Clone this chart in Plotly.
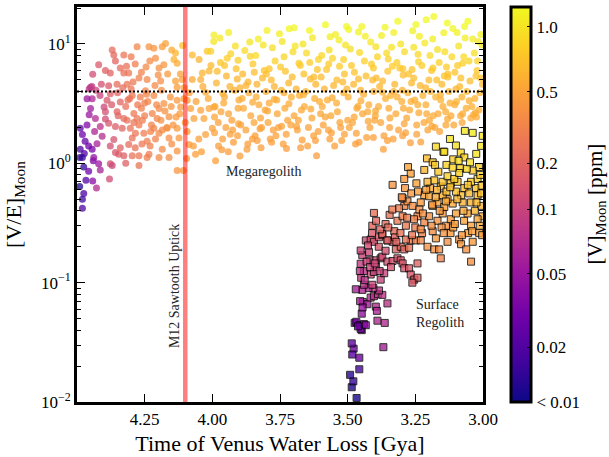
import numpy as np
import plotly.graph_objects as go

# ---------------- Megaregolith (circles) ----------------
mega_gya = [
    4.488, 4.480, 4.463, 4.470, 4.488, 4.457, 4.473, 4.480, 4.444, 4.490,
    4.475, 4.467, 4.490, 4.475, 4.480, 4.480, 4.457, 4.442, 4.428, 4.440,
    4.414, 4.380, 4.370, 4.450, 4.444, 4.463, 4.450, 4.442, 4.420, 4.400,
    4.432, 4.414, 4.407, 4.426, 4.438, 4.420, 4.377, 4.377, 4.364, 4.383,
    4.389, 4.377, 4.383, 4.395, 4.352, 4.340, 4.358, 4.333, 4.346, 4.358,
    4.327, 4.340, 4.309, 4.303, 4.315, 4.327, 4.290, 4.278, 4.271, 4.284,
    4.296, 4.253, 4.241, 4.234, 4.271, 4.271, 4.216, 4.204, 4.222, 4.197,
    4.179, 4.216, 4.247, 4.241, 4.271, 4.309, 4.327, 4.315, 4.352, 4.377,
    4.370, 4.364, 4.358, 4.327, 4.317, 4.278, 4.234, 4.216, 4.210, 4.231,
    4.173, 4.185, 4.179, 4.191, 4.197, 4.266, 4.296, 4.160, 4.167, 4.197,
    4.160, 4.185, 4.160, 4.197, 4.241, 4.296, 4.130, 4.107, 4.130, 4.123,
    4.130, 4.093, 4.086, 4.062, 4.068, 4.025, 4.031, 4.000, 3.988, 4.012,
    3.994, 4.080, 4.043, 4.130, 4.117, 4.105, 4.093, 4.136, 4.130, 4.142,
    4.136, 4.130, 4.111, 4.074, 4.049, 4.074, 4.043, 4.037, 4.012, 4.019,
    4.006, 4.025, 3.994, 4.455, 4.445, 4.430, 4.410, 4.300, 4.250, 4.350,
    4.320, 4.305, 4.290, 4.262, 4.250, 4.238, 4.225, 4.212, 4.190, 4.175,
    4.155, 4.145, 4.120, 4.100, 4.085, 4.060, 4.050, 4.035, 4.015, 4.005,
    4.395, 4.340, 4.300, 4.285, 4.262, 4.245, 4.200, 4.165, 4.150, 4.110,
    4.320, 4.285, 4.260, 4.230, 4.210, 4.185, 4.150, 4.095, 4.070, 4.040,
    3.995, 3.985, 3.978, 3.970, 3.962, 3.955, 3.948, 3.940, 3.932, 3.925,
    3.918, 3.912, 3.905, 3.898, 3.990, 3.972, 3.950, 3.935, 3.915, 3.902,
    3.982, 3.965, 3.945, 3.928, 3.908, 3.992, 3.958, 3.922, 3.940, 3.968,
    3.895, 3.888, 3.880, 3.872, 3.865, 3.858, 3.850, 3.842, 3.835, 3.828,
    3.820, 3.812, 3.805, 3.890, 3.876, 3.860, 3.846, 3.830, 3.815, 3.802,
    3.885, 3.868, 3.852, 3.838, 3.822, 3.808, 3.898, 3.862, 3.840, 3.818,
    3.798, 3.790, 3.782, 3.775, 3.768, 3.760, 3.752, 3.745, 3.738, 3.730,
    3.722, 3.716, 3.708, 3.702, 3.794, 3.778, 3.762, 3.748, 3.732, 3.718,
    3.786, 3.771, 3.756, 3.742, 3.726, 3.710, 3.800, 3.765, 3.735, 3.705,
    3.698, 3.690, 3.682, 3.675, 3.668, 3.660, 3.652, 3.645, 3.638, 3.630,
    3.622, 3.615, 3.608, 3.600, 3.694, 3.678, 3.662, 3.648, 3.632, 3.618,
    3.686, 3.671, 3.655, 3.641, 3.626, 3.612, 3.604, 3.665, 3.640, 3.698,
    3.598, 3.590, 3.582, 3.575, 3.568, 3.560, 3.552, 3.545, 3.538, 3.530,
    3.522, 3.515, 3.508, 3.500, 3.594, 3.578, 3.562, 3.548, 3.532, 3.518,
    3.586, 3.571, 3.556, 3.541, 3.526, 3.512, 3.504, 3.565, 3.540, 3.596,
    3.498, 3.490, 3.482, 3.475, 3.468, 3.460, 3.452, 3.445, 3.438, 3.430,
    3.422, 3.415, 3.408, 3.400, 3.494, 3.478, 3.462, 3.448, 3.432, 3.418,
    3.486, 3.471, 3.456, 3.441, 3.426, 3.412, 3.404, 3.466, 3.435, 3.496,
    3.398, 3.390, 3.382, 3.375, 3.368, 3.360, 3.352, 3.345, 3.338, 3.330,
    3.322, 3.315, 3.308, 3.300, 3.394, 3.378, 3.362, 3.348, 3.332, 3.318,
    3.386, 3.371, 3.356, 3.341, 3.326, 3.312, 3.304, 3.366, 3.335, 3.396,
    3.298, 3.290, 3.282, 3.275, 3.268, 3.260, 3.252, 3.245, 3.238, 3.230,
    3.222, 3.215, 3.208, 3.200, 3.294, 3.278, 3.262, 3.248, 3.232, 3.218,
    3.286, 3.271, 3.256, 3.241, 3.226, 3.212, 3.204, 3.266, 3.235, 3.296,
    3.198, 3.190, 3.182, 3.175, 3.168, 3.160, 3.152, 3.145, 3.138, 3.130,
    3.122, 3.115, 3.108, 3.100, 3.194, 3.178, 3.162, 3.148, 3.132, 3.118,
    3.186, 3.171, 3.156, 3.141, 3.126, 3.112, 3.104, 3.166, 3.135, 3.196,
    3.098, 3.090, 3.082, 3.075, 3.068, 3.060, 3.052, 3.045, 3.038, 3.030,
    3.022, 3.015, 3.008, 3.002, 3.094, 3.078, 3.062, 3.048, 3.032, 3.018,
    3.086, 3.071, 3.056, 3.041, 3.026, 3.012, 3.004, 3.066, 3.035, 3.096,
    3.992, 3.961, 3.934, 3.903, 3.876, 3.851, 3.824, 3.796, 3.771, 3.744,
    3.717, 3.689, 3.663, 3.636, 3.609, 3.583, 3.557, 3.529, 3.503, 3.476,
    3.451, 3.424, 3.397, 3.371, 3.344, 3.317, 3.291, 3.264, 3.237, 3.211,
    3.184, 3.157, 3.131, 3.104, 3.077, 3.051, 3.024, 3.009, 3.143, 3.256,
    3.977, 3.941, 3.907, 3.869, 3.834, 3.781, 3.727, 3.674, 3.619, 3.566,
    3.512, 3.458, 3.405, 3.353, 3.297, 3.245, 3.189, 3.137, 3.083, 3.028,
    4.455, 4.435, 4.415, 4.395, 4.372, 4.348, 4.331, 4.312, 4.293, 4.276,
    4.258, 4.243, 4.228, 4.206, 4.188, 4.168, 4.152, 4.134, 4.118, 4.104,
    3.955, 3.905, 3.845, 3.790, 3.735, 3.680, 3.625, 3.570, 3.515, 3.460,
    3.405, 3.350, 3.295, 3.240, 3.185, 3.130, 3.075, 3.020, 3.330, 3.210,
]
mega_ve = [
    1.97, 1.74, 2.10, 1.53, 1.31, 1.40, 1.21, 1.12, 1.31, 1.12,
    0.93, 0.72, 0.64, 0.56, 0.50, 0.42, 0.86, 0.71, 0.62, 1.05,
    0.88, 0.74, 0.96, 2.88, 3.47, 3.47, 4.33, 5.57, 6.70, 2.97,
    2.38, 2.04, 1.69, 1.46, 1.12, 0.99, 0.99, 1.40, 1.58, 2.17,
    3.37, 3.82, 4.46, 2.70, 2.70, 3.27, 2.04, 1.97, 1.19, 1.23,
    1.16, 1.35, 1.44, 1.97, 2.30, 2.38, 2.62, 2.38, 2.10, 1.79,
    1.63, 1.79, 1.53, 1.19, 1.16, 0.96, 1.97, 2.38, 2.62, 2.88,
    3.17, 3.70, 4.06, 5.04, 5.20, 5.72, 5.72, 4.60, 4.60, 5.72,
    8.90, 8.10, 7.20, 8.10, 6.50, 9.50, 9.50, 9.20, 7.60, 7.20,
    10.1, 9.50, 6.70, 4.90, 6.30, 3.60, 3.70, 2.46, 1.97, 1.79,
    1.63, 1.31, 1.12, 1.12, 1.12, 1.16, 0.87, 0.87, 1.27, 1.63,
    1.97, 1.85, 1.44, 1.19, 2.38, 1.74, 2.38, 1.97, 1.05, 2.88,
    2.97, 2.88, 2.79, 3.37, 2.97, 3.47, 3.37, 4.90, 4.33, 7.40,
    8.40, 6.90, 5.04, 8.10, 7.40, 5.04, 5.04, 5.72, 5.93, 8.70,
    8.70, 3.94, 11.9, 4.20, 4.40, 4.10, 4.60, 4.20, 3.20, 3.90,
    3.00, 3.50, 2.20, 2.90, 2.50, 3.30, 2.10, 4.50, 2.30, 2.75,
    3.60, 2.10, 2.60, 2.20, 3.90, 3.30, 1.60, 4.40, 3.50, 6.60,
    6.00, 6.30, 7.80, 6.80, 5.80, 6.40, 5.50, 5.60, 8.90, 9.70,
    1.00, 1.35, 1.45, 1.40, 1.60, 1.90, 1.45, 1.10, 1.40, 1.25,
    10.5, 4.70, 2.20, 7.00, 1.60, 3.60, 5.40, 2.60, 8.30, 1.90,
    4.10, 6.20, 2.90, 1.15, 3.00, 11.2, 2.00, 4.40, 9.60, 3.40,
    5.90, 1.30, 7.60, 2.30, 5.10, 1.80, 3.20, 1.50, 12.5, 2.70,
    2.10, 5.60, 8.80, 1.31, 3.90, 2.50, 6.80, 1.70, 4.60, 3.10,
    1.35, 9.80, 2.80, 3.50, 1.90, 7.90, 2.20, 11.0, 5.20, 4.00,
    2.90, 4.80, 1.60, 3.60, 2.40, 6.00, 4.30, 10.4, 8.00, 2.00,
    13.0, 3.20, 5.00, 1.90, 7.20, 2.60, 12.2, 4.10, 1.45, 5.90,
    2.30, 13.4, 3.60, 8.60, 2.20, 9.30, 3.40, 6.40, 2.90, 4.70,
    1.60, 4.40, 2.00, 10.5, 1.33, 2.10, 5.60, 1.70, 3.90, 5.30,
    13.7, 4.20, 2.30, 6.60, 1.57, 3.00, 8.40, 2.00, 5.10, 11.3,
    3.50, 1.16, 7.40, 2.60, 9.60, 3.70, 5.60, 1.40, 2.40, 4.60,
    1.90, 2.80, 4.00, 13.0, 1.70, 6.10, 3.30, 10.0, 7.00, 2.50,
    5.30, 2.10, 14.5, 3.40, 8.90, 1.80, 4.50, 12.0, 2.70, 6.50,
    1.55, 3.90, 9.80, 2.30, 3.00, 6.10, 2.50, 1.40, 10.8, 4.80,
    4.20, 1.90, 7.60, 3.20, 2.00, 5.60, 14.0, 11.5, 5.00, 8.00,
    3.60, 9.10, 2.20, 5.80, 1.79, 12.6, 4.10, 2.60, 7.20, 1.65,
    3.10, 10.4, 5.00, 2.30, 2.00, 4.60, 3.00, 14.0, 5.40, 2.00,
    6.60, 1.45, 8.50, 3.80, 2.70, 6.80, 4.00, 2.90, 11.6, 13.2,
    2.50, 7.80, 4.40, 11.8, 1.31, 3.50, 5.90, 2.00, 9.40, 4.00,
    2.60, 15.5, 6.30, 3.30, 5.20, 2.20, 13.8, 2.90, 1.60, 7.00,
    3.00, 4.90, 8.40, 3.70, 4.60, 1.90, 10.0, 1.70, 6.50, 9.50,
    4.10, 8.60, 2.40, 5.60, 1.49, 12.9, 3.40, 2.10, 7.10, 1.51,
    3.70, 10.2, 2.60, 5.00, 2.90, 3.90, 6.10, 14.6, 4.50, 2.20,
    1.80, 2.80, 9.40, 3.10, 6.60, 4.30, 1.90, 3.30, 11.6, 6.20,
    2.30, 6.00, 17.0, 3.60, 9.00, 1.85, 4.60, 12.4, 2.70, 5.30,
    3.20, 7.80, 2.10, 4.20, 4.00, 2.00, 7.00, 3.00, 15.0, 2.50,
    11.0, 5.00, 3.40, 8.60, 4.00, 13.5, 5.80, 2.60, 6.40, 8.00,
    3.30, 9.60, 5.20, 2.60, 14.0, 4.00, 7.20, 2.40, 11.0, 3.50,
    6.00, 2.80, 12.0, 4.60, 6.60, 3.60, 2.90, 4.90, 8.40, 10.5,
    4.40, 7.80, 15.5, 3.00, 5.40, 3.90, 9.80, 11.2, 2.55, 12.5,
    2.45, 3.85, 1.75, 2.15, 4.50, 3.25, 1.95, 2.75, 3.45, 2.05,
    3.15, 2.05, 3.75, 2.85, 1.85, 2.45, 3.55, 2.20, 4.20, 2.45,
    3.35, 2.25, 2.75, 3.95, 2.40, 3.60, 2.15, 4.70, 2.65, 3.10,
    2.50, 3.75, 2.35, 3.10, 2.20, 3.35, 2.45, 5.20, 5.40, 5.20,
    1.40, 1.25, 1.70, 1.45, 1.55, 1.50, 1.75, 1.35, 1.55, 1.60,
    1.75, 1.50, 1.65, 1.55, 1.70, 1.75, 2.05, 2.10, 2.50, 2.65,
    2.55, 1.85, 3.70, 2.35, 3.10, 2.50, 4.30, 3.40, 4.80, 3.10,
    2.30, 3.80, 1.85, 3.10, 4.10, 2.00, 3.00, 2.45, 5.60, 4.30,
    6.60, 7.30, 5.80, 6.20, 7.80, 6.90, 5.30, 6.80, 7.40, 5.10,
    6.30, 7.50, 5.50, 8.20, 6.30, 5.60, 6.90, 7.20, 12.5, 16.0,
]
mega_v = [
    0.022, 0.028, 0.035, 0.025, 0.018, 0.030, 0.020, 0.015, 0.032, 0.014,
    0.014, 0.020, 0.012, 0.018, 0.016, 0.020, 0.028, 0.040, 0.070, 0.035,
    0.060, 0.120, 0.100, 0.055, 0.065, 0.050, 0.085, 0.120, 0.160, 0.110,
    0.070, 0.080, 0.070, 0.060, 0.045, 0.050, 0.120, 0.130, 0.140, 0.150,
    0.15, 0.17, 0.16, 0.13, 0.19, 0.20, 0.17, 0.20, 0.17, 0.15,
    0.18, 0.19, 0.22, 0.24, 0.25, 0.22, 0.27, 0.27, 0.28, 0.26,
    0.24, 0.30, 0.30, 0.29, 0.26, 0.25, 0.33, 0.34, 0.33, 0.36,
    0.40, 0.36, 0.33, 0.34, 0.31, 0.27, 0.24, 0.26, 0.22, 0.19,
    0.22, 0.21, 0.20, 0.26, 0.25, 0.33, 0.40, 0.42, 0.40, 0.36,
    0.50, 0.47, 0.42, 0.38, 0.40, 0.30, 0.27, 0.40, 0.38, 0.35,
    0.38, 0.36, 0.37, 0.35, 0.30, 0.24, 0.42, 0.44, 0.42, 0.44,
    0.44, 0.47, 0.46, 0.48, 0.50, 0.50, 0.52, 0.50, 0.48, 0.52,
    0.52, 0.50, 0.50, 0.45, 0.45, 0.47, 0.48, 0.50, 0.47, 0.60,
    0.62, 0.55, 0.50, 0.65, 0.60, 0.55, 0.56, 0.60, 0.62, 0.75,
    0.80, 0.55, 1.10, 0.075, 0.090, 0.100, 0.130, 0.26, 0.30, 0.20,
    0.24, 0.26, 0.26, 0.30, 0.30, 0.33, 0.32, 0.36, 0.38, 0.40,
    0.43, 0.42, 0.45, 0.47, 0.50, 0.50, 0.48, 0.55, 0.55, 0.65,
    0.18, 0.22, 0.28, 0.30, 0.32, 0.35, 0.38, 0.44, 0.55, 0.70,
    0.18, 0.24, 0.27, 0.30, 0.32, 0.36, 0.38, 0.44, 0.48, 0.48,
    1.00, 0.60, 0.50, 0.75, 0.48, 0.55, 0.62, 0.52, 0.85, 0.48,
    0.58, 0.70, 0.53, 0.46, 0.54, 1.05, 0.50, 0.60, 0.95, 0.55,
    0.66, 0.47, 0.80, 0.50, 0.62, 0.50, 0.55, 0.47, 1.10, 0.52,
    0.50, 0.65, 0.90, 0.47, 0.58, 0.52, 0.75, 0.48, 0.60, 0.55,
    0.47, 1.00, 0.53, 0.56, 0.50, 0.85, 0.52, 1.10, 0.63, 0.58,
    0.54, 0.62, 0.48, 0.57, 0.52, 0.70, 0.60, 1.00, 0.90, 0.50,
    1.15, 0.55, 0.65, 0.50, 0.82, 0.53, 1.10, 0.60, 0.48, 0.72,
    0.52, 1.20, 0.58, 0.90, 0.52, 0.95, 0.56, 0.75, 0.55, 0.62,
    0.49, 0.60, 0.50, 1.00, 0.47, 0.51, 0.68, 0.49, 0.58, 0.65,
    1.20, 0.60, 0.52, 0.75, 0.48, 0.55, 0.90, 0.50, 0.65, 1.05,
    0.57, 0.46, 0.85, 0.53, 1.00, 0.58, 0.70, 0.48, 0.53, 0.62,
    0.50, 0.54, 0.60, 1.20, 0.49, 0.72, 0.56, 1.00, 0.80, 0.52,
    0.66, 0.50, 1.25, 0.57, 0.95, 0.50, 0.62, 1.10, 0.54, 0.78,
    0.48, 0.60, 1.00, 0.52, 0.55, 0.72, 0.53, 0.48, 1.10, 0.64,
    0.60, 0.50, 0.85, 0.56, 0.50, 0.70, 1.20, 1.10, 0.66, 0.88,
    0.58, 0.95, 0.52, 0.70, 0.50, 1.15, 0.60, 0.53, 0.82, 0.49,
    0.56, 1.05, 0.65, 0.52, 0.51, 0.63, 0.55, 1.20, 0.68, 0.51,
    0.76, 0.48, 0.90, 0.58, 0.54, 0.78, 0.60, 0.55, 1.10, 1.20,
    0.53, 0.85, 0.62, 1.10, 0.48, 0.58, 0.72, 0.50, 1.00, 0.60,
    0.54, 1.25, 0.75, 0.57, 0.65, 0.52, 1.20, 0.55, 0.49, 0.80,
    0.56, 0.64, 0.90, 0.59, 0.63, 0.50, 1.00, 0.49, 0.77, 0.98,
    0.60, 0.92, 0.53, 0.70, 0.48, 1.15, 0.58, 0.52, 0.82, 0.49,
    0.60, 1.05, 0.55, 0.66, 0.55, 0.60, 0.74, 1.25, 0.63, 0.53,
    0.50, 0.55, 1.00, 0.57, 0.78, 0.62, 0.51, 0.58, 1.10, 0.74,
    0.54, 0.74, 1.30, 0.60, 0.95, 0.50, 0.65, 1.15, 0.56, 0.70,
    0.58, 0.88, 0.53, 0.62, 0.62, 0.52, 0.82, 0.57, 1.25, 0.55,
    1.10, 0.67, 0.59, 0.93, 0.62, 1.20, 0.72, 0.55, 0.78, 0.90,
    0.60, 1.00, 0.70, 0.56, 1.25, 0.63, 0.85, 0.55, 1.10, 0.60,
    0.75, 0.57, 1.15, 0.66, 0.78, 0.60, 0.57, 0.68, 0.95, 1.05,
    0.64, 0.90, 1.30, 0.58, 0.72, 0.62, 1.05, 1.10, 0.56, 1.15,
    0.52, 0.58, 0.49, 0.51, 0.60, 0.55, 0.50, 0.53, 0.56, 0.50,
    0.55, 0.50, 0.58, 0.54, 0.49, 0.52, 0.57, 0.51, 0.60, 0.52,
    0.56, 0.52, 0.54, 0.60, 0.53, 0.58, 0.52, 0.64, 0.55, 0.57,
    0.55, 0.60, 0.54, 0.57, 0.53, 0.58, 0.55, 0.70, 0.70, 0.68,
    0.47, 0.46, 0.48, 0.47, 0.47, 0.48, 0.49, 0.47, 0.48, 0.48,
    0.49, 0.48, 0.49, 0.48, 0.50, 0.50, 0.52, 0.53, 0.55, 0.56,
    0.050, 0.065, 0.100, 0.120, 0.160, 0.190, 0.220, 0.240, 0.270, 0.280,
    0.30, 0.33, 0.32, 0.35, 0.38, 0.40, 0.42, 0.44, 0.50, 0.48,
    0.72, 0.80, 0.68, 0.72, 0.85, 0.78, 0.66, 0.78, 0.82, 0.65,
    0.75, 0.82, 0.68, 0.88, 0.76, 0.70, 0.80, 0.84, 1.15, 1.30,
]

# ---------------- Surface regolith (squares) ----------------
surf_gya = [
    3.467, 3.485, 3.479, 3.491, 3.457, 3.457, 3.478, 3.485, 3.368, 3.483,
    3.474, 3.468, 3.456, 3.448, 3.452, 3.440, 3.433, 3.462, 3.390, 3.363,
    3.448, 3.444, 3.454, 3.427, 3.396, 3.353, 3.415, 3.403, 3.388, 3.372,
    3.384, 3.405, 3.423, 3.446, 3.440, 3.450, 3.409, 3.415, 3.403, 3.378,
    3.452, 3.446, 3.452, 3.421, 3.417, 3.396, 3.378, 3.372, 3.353, 3.334,
    3.316, 3.304, 3.297, 3.291, 3.273, 3.267, 3.254, 3.242, 3.261, 3.242,
    3.433, 3.415, 3.403, 3.384, 3.372, 3.353, 3.334, 3.322, 3.304, 3.291,
    3.273, 3.267, 3.248, 3.230, 3.205, 3.180, 3.174, 3.440, 3.425, 3.395,
    3.038, 3.067, 3.122, 3.174, 3.146, 3.100, 3.082, 3.069, 3.110, 3.007,
    3.015, 3.038, 3.084, 3.207, 3.186, 3.217, 3.177, 3.135, 3.001, 3.143,
    3.277, 3.267, 3.291, 3.334, 3.288, 3.246, 3.403, 3.409, 3.372, 3.353,
    3.328, 3.316, 3.297, 3.291, 3.279, 3.260, 3.297, 3.242, 3.217, 3.199,
    3.186, 3.168, 3.149, 3.137, 3.119, 3.100, 3.088, 3.131, 3.162, 3.156,
    3.081, 3.044, 3.038, 3.014, 3.044, 3.001, 3.020, 3.057, 3.075, 3.044,
    3.020, 3.007, 3.112, 3.131, 3.149, 3.156, 3.180, 3.149, 3.119, 3.094,
    3.069, 3.051, 3.026, 3.007, 3.217, 3.199, 3.230, 3.186, 3.131, 3.106,
    3.044, 3.020, 3.081, 3.168, 3.143, 3.060, 3.090, 3.025, 3.165, 3.195,
    3.310, 3.285, 3.265, 3.250, 3.235, 3.225, 3.210, 3.190, 3.175, 3.160,
    3.395, 3.380, 3.360, 3.345, 3.325, 3.305, 3.285, 3.255, 3.230, 3.120,
    3.110, 3.095, 3.070, 3.055, 3.030, 3.012, 3.005, 3.062, 3.100, 3.135,
    3.240, 3.222, 3.205, 3.188, 3.170, 3.153, 3.137, 3.121, 3.104, 3.088,
    3.072, 3.056, 3.040, 3.024, 3.010, 3.003, 3.048, 3.078, 3.112, 3.145,
    3.350, 3.335, 3.320, 3.300, 3.280, 3.262, 3.385, 3.410, 3.430, 3.365,
    3.455, 3.437, 3.418, 3.400, 3.382, 3.360, 3.470, 3.445, 3.392, 3.340,
]
surf_ve = [
    0.0108, 0.0133, 0.0149, 0.0169, 0.0188, 0.0235, 0.0280, 0.0310, 0.0288, 0.0250,
    0.046, 0.047, 0.044, 0.040, 0.041, 0.045, 0.044, 0.043, 0.048, 0.046,
    0.055, 0.069, 0.070, 0.066, 0.063, 0.067, 0.075, 0.077, 0.080, 0.079,
    0.086, 0.090, 0.090, 0.087, 0.096, 0.110, 0.096, 0.117, 0.123, 0.106,
    0.144, 0.170, 0.186, 0.180, 0.154, 0.154, 0.160, 0.165, 0.150, 0.152,
    0.160, 0.154, 0.145, 0.132, 0.132, 0.117, 0.106, 0.110, 0.100, 0.145,
    0.226, 0.230, 0.220, 0.240, 0.250, 0.226, 0.220, 0.190, 0.200, 0.190,
    0.196, 0.226, 0.226, 0.226, 0.200, 0.190, 0.235, 0.125, 0.205, 0.135,
    1.80, 1.87, 1.60, 1.38, 1.25, 1.41, 1.23, 1.12, 1.08, 1.40,
    0.93, 0.87, 0.91, 1.10, 1.02, 0.88, 0.97, 0.97, 1.70, 1.25,
    0.93, 0.82, 0.74, 0.66, 0.62, 0.68, 0.384, 0.300, 0.256, 0.226,
    0.27, 0.33, 0.36, 0.44, 0.48, 0.44, 0.51, 0.36, 0.32, 0.36,
    0.27, 0.33, 0.38, 0.30, 0.34, 0.38, 0.23, 0.22, 0.19, 0.16,
    0.21, 0.30, 0.22, 0.26, 0.15, 0.36, 0.34, 0.38, 0.47, 0.47,
    0.54, 0.44, 0.46, 0.50, 0.54, 0.64, 0.72, 0.70, 0.68, 0.70,
    0.62, 0.56, 0.62, 0.56, 0.54, 0.53, 0.47, 0.44, 0.78, 0.74,
    0.70, 0.74, 0.54, 0.47, 0.43, 0.90, 1.05, 1.20, 0.85, 0.62,
    0.42, 0.30, 0.56, 0.29, 0.41, 0.26, 0.60, 0.30, 0.52, 0.40,
    0.33, 0.28, 0.31, 0.37, 0.24, 0.26, 0.23, 0.34, 0.28, 0.26,
    0.29, 0.50, 0.33, 0.26, 0.40, 0.30, 0.65, 0.19, 0.58, 0.58,
    0.58, 0.38, 0.70, 0.45, 0.60, 0.29, 0.48, 0.63, 0.31, 0.83,
    0.40, 0.66, 0.27, 0.47, 0.80, 0.25, 1.02, 0.25, 0.92, 0.26,
    0.29, 0.41, 0.22, 0.52, 0.35, 0.25, 0.20, 0.26, 0.15, 0.12,
    0.125, 0.105, 0.135, 0.145, 0.125, 0.185, 0.088, 0.062, 0.058, 0.135,
]
surf_v = [
    0.011, 0.012, 0.015, 0.013, 0.018, 0.030, 0.030, 0.025, 0.060, 0.022,
    0.030, 0.032, 0.030, 0.028, 0.035, 0.040, 0.040, 0.030, 0.070, 0.070,
    0.045, 0.050, 0.060, 0.055, 0.070, 0.080, 0.070, 0.075, 0.090, 0.080,
    0.080, 0.085, 0.070, 0.065, 0.080, 0.090, 0.100, 0.110, 0.100, 0.100,
    0.09, 0.10, 0.10, 0.11, 0.10, 0.12, 0.13, 0.12, 0.13, 0.14,
    0.15, 0.14, 0.16, 0.14, 0.16, 0.15, 0.17, 0.18, 0.16, 0.20,
    0.12, 0.14, 0.13, 0.16, 0.18, 0.17, 0.18, 0.20, 0.22, 0.20,
    0.25, 0.30, 0.32, 0.35, 0.40, 0.42, 0.45, 0.08, 0.12, 0.11,
    1.10, 1.05, 1.00, 0.90, 0.85, 0.95, 0.90, 0.85, 0.80, 1.00,
    0.80, 0.80, 0.85, 0.65, 0.70, 0.60, 0.80, 0.85, 1.00, 0.95,
    0.50, 0.48, 0.45, 0.42, 0.42, 0.50, 0.25, 0.20, 0.20, 0.18,
    0.22, 0.28, 0.30, 0.35, 0.38, 0.38, 0.40, 0.35, 0.35, 0.40,
    0.38, 0.42, 0.45, 0.42, 0.45, 0.50, 0.42, 0.40, 0.38, 0.33,
    0.45, 0.50, 0.45, 0.50, 0.40, 0.55, 0.52, 0.52, 0.60, 0.60,
    0.65, 0.60, 0.55, 0.55, 0.60, 0.65, 0.70, 0.72, 0.75, 0.78,
    0.72, 0.65, 0.72, 0.70, 0.50, 0.52, 0.45, 0.48, 0.85, 0.80,
    0.78, 0.82, 0.68, 0.50, 0.48, 0.90, 0.95, 1.00, 0.75, 0.55,
    0.30, 0.28, 0.45, 0.30, 0.40, 0.32, 0.50, 0.38, 0.55, 0.45,
    0.20, 0.20, 0.22, 0.25, 0.20, 0.25, 0.25, 0.33, 0.35, 0.45,
    0.48, 0.62, 0.52, 0.48, 0.60, 0.55, 0.75, 0.40, 0.70, 0.65,
    0.48, 0.40, 0.60, 0.45, 0.60, 0.40, 0.55, 0.68, 0.48, 0.85,
    0.55, 0.75, 0.48, 0.62, 0.82, 0.50, 0.92, 0.45, 0.88, 0.42,
    0.22, 0.28, 0.20, 0.38, 0.30, 0.26, 0.15, 0.16, 0.10, 0.10,
    0.08, 0.08, 0.10, 0.11, 0.10, 0.13, 0.06, 0.05, 0.065, 0.13,
]

# reference lines / labels
m12_uptick_gya = 4.1
ve_reference = 4.0
x_range = [4.5, 3.0]
y_range_log = [-2.0, 1.31]
x_ticks = [4.25, 4.00, 3.75, 3.50, 3.25, 3.00]
y_ticks = [0.01, 0.1, 1, 10]
y_ticktext = ["10<sup>\u22122</sup>", "10<sup>\u22121</sup>", "10<sup>0</sup>", "10<sup>1</sup>"]

# colour-bar scale (value -> fraction along the bar)
cbar_vals = [0.01, 0.02, 0.05, 0.1, 0.2, 0.5, 1.0, 1.25]
cbar_pos = [0.0, 0.139, 0.325, 0.488, 0.604, 0.785, 0.950, 1.0]
cbar_labels = ["< 0.01", "0.02", "0.05", "0.1", "0.2", "0.5", "1.0"]


def cpos(v):
    v = np.clip(np.asarray(v, dtype=float), cbar_vals[0], cbar_vals[-1])
    return np.interp(np.log10(v), np.log10(cbar_vals), cbar_pos)


FONT = "Liberation Serif"

fig = go.Figure()
fig.add_trace(go.Scatter(
    x=mega_gya, y=mega_ve, mode="markers", name="Megaregolith",
    marker=dict(symbol="circle", size=7, color=cpos(mega_v),
                coloraxis="coloraxis", opacity=0.75, line=dict(width=0)),
    showlegend=False,
))
fig.add_trace(go.Scatter(
    x=surf_gya, y=surf_ve, mode="markers", name="Surface Regolith",
    marker=dict(symbol="square", size=7, color=cpos(surf_v),
                coloraxis="coloraxis", opacity=0.8,
                line=dict(width=1, color="black")),
    showlegend=False,
))
fig.add_trace(go.Scatter(
    x=x_range, y=[ve_reference, ve_reference], mode="lines",
    line=dict(color="black", width=2, dash="2px,2px"),
    showlegend=False, hoverinfo="skip",
))
fig.add_trace(go.Scatter(
    x=[m12_uptick_gya, m12_uptick_gya],
    y=[10 ** y_range_log[0], 10 ** y_range_log[1]], mode="lines",
    line=dict(color="rgba(255,0,0,0.5)", width=4.5),
    showlegend=False, hoverinfo="skip",
))

fig.add_annotation(x=4.137, y=np.log10(0.094), xref="x", yref="y",
                   text="M12 Sawtooth Uptick", textangle=-90, showarrow=False,
                   font=dict(family=FONT, size=14, color="#222"))
fig.add_annotation(x=3.81, y=np.log10(0.86), xref="x", yref="y",
                   text="Megaregolith", showarrow=False,
                   font=dict(family=FONT, size=14, color="#222"))
fig.add_annotation(x=3.256, y=np.log10(0.055), xref="x", yref="y",
                   text="Surface<br>Regolith", showarrow=False,
                   xanchor="left", align="left",
                   font=dict(family=FONT, size=14, color="#222"))
# colour-bar title
fig.add_annotation(x=1.276, y=0.5, xref="paper", yref="paper",
                   text="[V]<sub>Moon</sub> [ppm]", textangle=-90,
                   showarrow=False, xanchor="center", yanchor="middle",
                   font=dict(family=FONT, size=21, color="black"))

fig.update_layout(
    width=609, height=457,
    margin=dict(l=77, r=126, t=4, b=48),
    paper_bgcolor="white", plot_bgcolor="white",
    font=dict(family=FONT, color="black"),
    coloraxis=dict(
        colorscale="Plasma", cmin=0, cmax=1,
        colorbar=dict(
            thickness=20, thicknessmode="pixels",
            len=1.0, lenmode="fraction", y=0.5, yanchor="middle",
            x=1.07, xanchor="left", xpad=0, ypad=0,
            outlinewidth=3, outlinecolor="black",
            tickmode="array", tickvals=cbar_pos[:-1], ticktext=cbar_labels,
            ticks="inside", ticklen=5, tickcolor="black", tickwidth=1,
            tickfont=dict(family=FONT, size=17, color="black"),
        ),
    ),
    xaxis=dict(
        range=x_range, showgrid=False, zeroline=False,
        showline=True, linewidth=3, linecolor="black", mirror="allticks",
        ticks="inside", ticklen=8, tickwidth=1.2, tickcolor="black",
        tickmode="array", tickvals=x_ticks,
        ticktext=[f"{t:.2f}" for t in x_ticks],
        tickfont=dict(family=FONT, size=17),
        title=dict(text="Time of Venus Water Loss [Gya]", standoff=8,
                   font=dict(family=FONT, size=22)),
    ),
    yaxis=dict(
        type="log", range=y_range_log, showgrid=False, zeroline=False,
        showline=True, linewidth=3, linecolor="black", mirror="allticks",
        ticks="inside", ticklen=8, tickwidth=1.2, tickcolor="black",
        tickmode="array", tickvals=y_ticks, ticktext=y_ticktext,
        minor=dict(ticks="inside", ticklen=4, tickcolor="black",
                   tickwidth=1, dtick="D1", showgrid=False),
        tickfont=dict(family=FONT, size=17),
        title=dict(text="[V/E]<sub>Moon</sub>", standoff=14,
                   font=dict(family=FONT, size=22)),
    ),
)

fig.write_html("out.html")
